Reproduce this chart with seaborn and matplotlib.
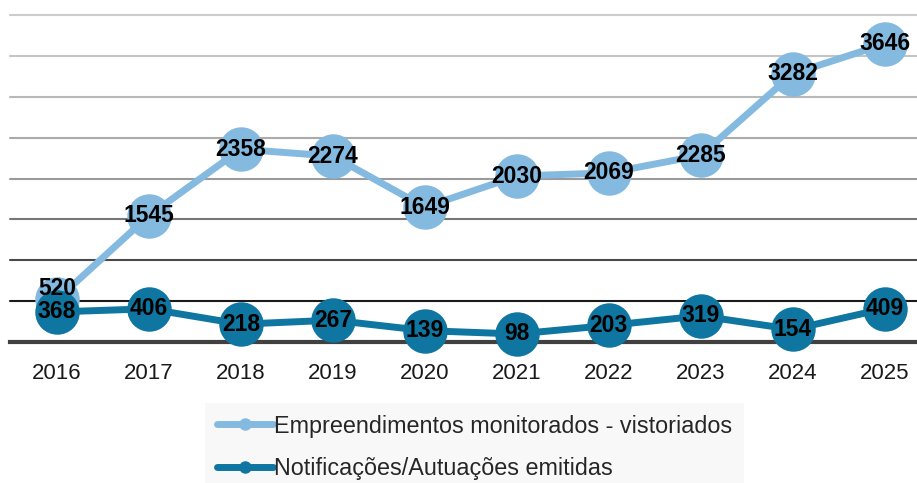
import matplotlib.pyplot as plt
import numpy as np
import pandas as pd
import seaborn as sns
from matplotlib.lines import Line2D

years = [2016, 2017, 2018, 2019, 2020, 2021, 2022, 2023, 2024, 2025]
vistoriados = [520, 1545, 2358, 2274, 1649, 2030, 2069, 2285, 3282, 3646]
notificacoes = [368, 406, 218, 267, 139, 98, 203, 319, 154, 409]
series_names = ['Empreendimentos monitorados - vistoriados',
                'Notificações/Autuações emitidas']
colors = ['#85bae0', '#0e76a0']
grid_levels = [500, 1000, 1500, 2000, 2500, 3000, 3500, 4000]
grid_colors = ['#1a1a1a', '#4a4a4a', '#777777', '#9a9a9a',
               '#aaaaaa', '#b8b8b8', '#c4c4c4', '#cccccc']

df = pd.DataFrame({
    'ano': years * 2,
    'valor': vistoriados + notificacoes,
    'serie': [series_names[0]] * len(years) + [series_names[1]] * len(years),
})

sns.set_style('white')
plt.rcParams['font.family'] = ['Liberation Sans', 'DejaVu Sans']

W, H = 917, 483
fig = plt.figure(figsize=(W / 100, H / 100), dpi=100)
ax = fig.add_axes([10 / W, (H - 342) / H, 907 / W, 327 / H])

for lvl, c in zip(grid_levels, grid_colors):
    ax.axhline(lvl, color=c, lw=1.5, zorder=0)

sns.lineplot(data=df, x='ano', y='valor', hue='serie', palette=colors,
             marker='o', markersize=32, markeredgewidth=0, linewidth=5,
             legend=False, ax=ax, zorder=3)

for i, (x, v) in enumerate(zip(years, vistoriados)):
    dy = 140 if i == 0 else 0
    ax.text(x, v + dy, str(v), ha='center', va='center', fontsize=16.5,
            fontweight='bold', color='black', zorder=5)
for x, v in zip(years, notificacoes):
    ax.text(x, v, str(v), ha='center', va='center', fontsize=16.5,
            fontweight='bold', color='black', zorder=5)

ax.set_xlim(2015.49, 2025.35)
ax.set_ylim(0, 4000)
ax.set_xticks(years)
ax.set_xticklabels([str(y) for y in years], fontsize=16, color='#1a1a1a')
ax.set_yticks([])
ax.set_xlabel('')
ax.set_ylabel('')
ax.tick_params(axis='x', length=0, pad=15)
sns.despine(ax=ax, left=True, right=True, top=True)
ax.spines['bottom'].set_color('#404040')
ax.spines['bottom'].set_linewidth(3)
ax.spines['bottom'].set_zorder(2)
for artist in ax.lines:
    artist.set_clip_on(False)

handles = [Line2D([], [], color=c, lw=5, marker='o', markersize=9,
                  markeredgewidth=0) for c in colors]
leg = fig.legend(handles, series_names, loc='upper left',
                 bbox_to_anchor=(205 / W, 1 - 403 / H), frameon=True,
                 facecolor='#f8f8f8', edgecolor='none', framealpha=1,
                 fancybox=False, fontsize=16.8, handlelength=2.4,
                 handletextpad=0.05, labelspacing=0.85, borderaxespad=0,
                 borderpad=0.5)

fig.savefig('out.png', dpi=100)
